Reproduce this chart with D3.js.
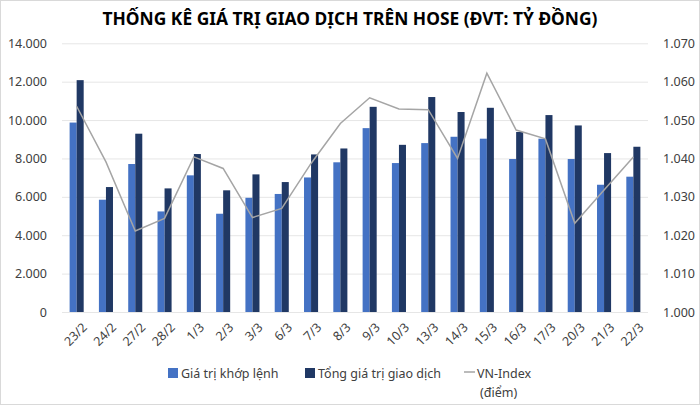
<!DOCTYPE html>
<html>
<head>
<meta charset="utf-8">
<script src="https://cdn.jsdelivr.net/npm/d3@7"></script>
<style>
  body { margin: 0; background: #fff; }
  text { font-family: "Noto Sans", "Open Sans", sans-serif; fill: #404040; }
</style>
</head>
<body>
<div class="chart"></div>
<script>
var dates = ["23/2", "24/2", "27/2", "28/2", "1/3", "2/3", "3/3", "6/3", "7/3", "8/3",
  "9/3", "10/3", "13/3", "14/3", "15/3", "16/3", "17/3", "20/3", "21/3", "22/3"];
var matched = [9870, 5850, 7710, 5240, 7120, 5120, 5950, 6150, 7010, 7800,
  9580, 7760, 8800, 9130, 9030, 7970, 9030, 7970, 6630, 7050];
var total = [12080, 6510, 9290, 6440, 8230, 6340, 7170, 6770, 8210, 8520,
  10690, 8710, 11200, 10420, 10640, 9380, 10260, 9720, 8280, 8610];
var vnIndex = [1053.6, 1039.1, 1021.1, 1024.4, 1040.4, 1037.4, 1024.6, 1027.0, 1038.7, 1049.1,
  1055.8, 1052.9, 1052.7, 1040.0, 1062.2, 1047.4, 1045.1, 1023.1, 1031.8, 1040.4];
var leftTicks = [0, 2000, 4000, 6000, 8000, 10000, 12000, 14000];
var rightTicks = [1000, 1010, 1020, 1030, 1040, 1050, 1060, 1070];
var seriesNames = ["Giá trị khớp lệnh", "Tổng giá trị giao dịch", "VN-Index", "(điểm)"];

var svgWidth = 700;
var svgHeight = 405;
var margin = { top: 43.3, right: 52, bottom: 93, left: 62 };
var width = svgWidth - margin.left - margin.right;
var height = svgHeight - margin.top - margin.bottom;

var colors = { matched: "#4472C4", total: "#203864", line: "#A5A5A5" };
var fmt = d3.formatLocale({ decimal: ",", thousands: ".", grouping: [3] }).format(",");

var svg = d3.select(".chart")
  .append("svg")
  .attr("width", svgWidth)
  .attr("height", svgHeight);

// chart border
svg.append("rect")
  .attr("x", 0.5).attr("y", 0.5)
  .attr("width", svgWidth - 1).attr("height", svgHeight - 1)
  .attr("fill", "none")
  .attr("stroke", "#D9D9D9");

svg.append("text")
  .attr("x", svgWidth / 2)
  .attr("y", 25)
  .attr("text-anchor", "middle")
  .attr("font-size", 18)
  .attr("font-weight", "bold")
  .attr("textLength", 495)
  .attr("lengthAdjust", "spacingAndGlyphs")
  .style("fill", "#000")
  .text("THỐNG KÊ GIÁ TRỊ GIAO DỊCH TRÊN HOSE (ĐVT: TỶ ĐỒNG)");

var chartGroup = svg.append("g")
  .attr("transform", `translate(${margin.left}, ${margin.top})`);

// scales
var xScale = d3.scaleBand()
  .domain(dates)
  .range([0, width]);

var barW = xScale.bandwidth() * 0.24;

var yLeft = d3.scaleLinear()
  .domain([0, 14000])
  .range([height, 0]);

var yRight = d3.scaleLinear()
  .domain([1000, 1070])
  .range([height, 0]);

// gridlines
chartGroup.append("g")
  .call(d3.axisLeft(yLeft).tickValues(leftTicks).tickSize(-width).tickFormat(""))
  .call(g => g.select(".domain").remove())
  .call(g => g.selectAll("line").attr("stroke", "#E6E6E6"));

// left axis labels
chartGroup.append("g")
  .call(d3.axisLeft(yLeft).tickValues(leftTicks).tickSize(0).tickPadding(15).tickFormat(fmt))
  .call(g => g.select(".domain").remove())
  .call(g => g.selectAll("text").attr("font-size", 12.5).attr("font-family", null));

// right axis labels
chartGroup.append("g")
  .attr("transform", `translate(${width}, 0)`)
  .call(d3.axisRight(yRight).tickValues(rightTicks).tickSize(0).tickPadding(15)
    .tickFormat(d => d3.format(".3f")(d / 1000)))
  .call(g => g.select(".domain").remove())
  .call(g => g.selectAll("text").attr("font-size", 12.5).attr("font-family", null));

// bars
chartGroup.selectAll(".bar-matched")
  .data(dates)
  .enter()
  .append("rect")
  .attr("class", "bar-matched")
  .attr("x", d => xScale(d) + xScale.bandwidth() / 2 - barW)
  .attr("y", (d, i) => yLeft(matched[i]))
  .attr("width", barW)
  .attr("height", (d, i) => height - yLeft(matched[i]))
  .attr("fill", colors.matched);

chartGroup.selectAll(".bar-total")
  .data(dates)
  .enter()
  .append("rect")
  .attr("class", "bar-total")
  .attr("x", d => xScale(d) + xScale.bandwidth() / 2)
  .attr("y", (d, i) => yLeft(total[i]))
  .attr("width", barW)
  .attr("height", (d, i) => height - yLeft(total[i]))
  .attr("fill", colors.total);

// VN-Index line
var line = d3.line()
  .x((d, i) => xScale(dates[i]) + xScale.bandwidth() / 2)
  .y(d => yRight(d));

chartGroup.append("path")
  .datum(vnIndex)
  .attr("fill", "none")
  .attr("stroke", colors.line)
  .attr("stroke-width", 1.5)
  .attr("d", line);

// x axis labels
chartGroup.append("g")
  .selectAll("text")
  .data(dates)
  .enter()
  .append("text")
  .attr("transform", d => `translate(${xScale(d) + xScale.bandwidth() / 2 + 5}, ${height + 10}) rotate(-45)`)
  .attr("text-anchor", "end")
  .attr("dy", "0.7em")
  .attr("font-size", 12.5)
  .text(d => d);

// legend
var legend = svg.append("g");

legend.append("rect")
  .attr("x", 168).attr("y", 368).attr("width", 10).attr("height", 10)
  .attr("fill", colors.matched);
legend.append("text")
  .attr("x", 181).attr("y", 377.5)
  .attr("font-size", 12.5)
  .text(seriesNames[0]);

legend.append("rect")
  .attr("x", 305).attr("y", 368).attr("width", 10).attr("height", 10)
  .attr("fill", colors.total);
legend.append("text")
  .attr("x", 318).attr("y", 377.5)
  .attr("font-size", 12.5)
  .text(seriesNames[1]);

legend.append("line")
  .attr("x1", 464).attr("x2", 475).attr("y1", 372).attr("y2", 372)
  .attr("stroke", colors.line).attr("stroke-width", 1.5);
legend.append("text")
  .attr("x", 477).attr("y", 377.5)
  .attr("font-size", 12.5)
  .text(seriesNames[2]);
legend.append("text")
  .attr("x", 480).attr("y", 397)
  .attr("font-size", 12.5)
  .text(seriesNames[3]);
</script>
</body>
</html>
